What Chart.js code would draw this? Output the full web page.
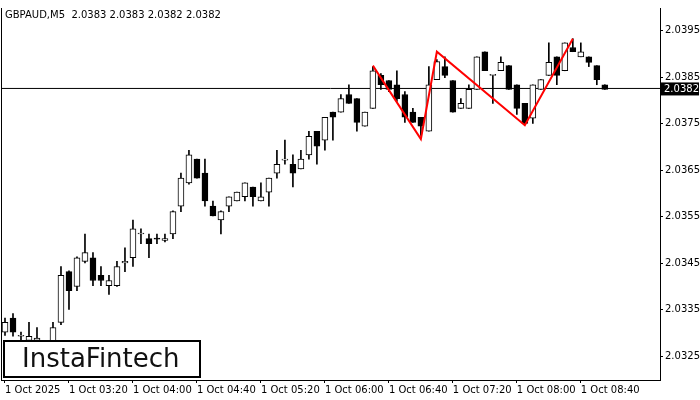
<!DOCTYPE html>
<html>
<head>
<meta charset="utf-8">
<script src="https://cdn.jsdelivr.net/npm/chart.js@4"></script>
<style>
  html, body { margin: 0; padding: 0; background: #fff; }
  #wrap { width: 700px; height: 400px; position: relative; }
</style>
</head>
<body>
<div id="wrap"><canvas id="chart"></canvas></div>
<script>
// GBPAUD M5 candles
const opens = [2.03302,2.03332,2.03293,2.03284,2.03284,2.03274,2.03274,2.03323,2.03432,2.03400,
  2.03454,2.03462,2.03424,2.03402,2.03402,2.03451,2.03462,2.03513,2.03503,2.03503,
  2.03499,2.03513,2.03573,2.03623,2.03674,2.03644,2.03573,2.03543,2.03573,2.03584,
  2.03593,2.03614,2.03584,2.03603,2.03644,2.03672,2.03663,2.03653,2.03683,2.03734,
  2.03715,2.03775,2.03775,2.03813,2.03804,2.03745,2.03783,2.03854,2.03843,2.03834,
  2.03813,2.03775,2.03764,2.03734,2.03845,2.03873,2.03843,2.03783,2.03783,2.03824,
  2.03905,2.03854,2.03864,2.03875,2.03834,2.03794,2.03762,2.03824,2.03854,2.03894,
  2.03864,2.03914,2.03894,2.03894,2.03875,2.03834];
const highs = [2.03332,2.03342,2.03302,2.03323,2.03312,2.03284,2.03323,2.03443,2.03434,2.03464,
  2.03513,2.03473,2.03443,2.03424,2.03454,2.03483,2.03543,2.03524,2.03513,2.03513,
  2.03513,2.03563,2.03644,2.03693,2.03674,2.03674,2.03584,2.03563,2.03593,2.03603,
  2.03623,2.03614,2.03623,2.03633,2.03693,2.03715,2.03683,2.03693,2.03734,2.03734,
  2.03764,2.03775,2.03813,2.03834,2.03804,2.03775,2.03873,2.03858,2.03843,2.03864,
  2.03819,2.03783,2.03764,2.03873,2.03888,2.03894,2.03843,2.03804,2.03834,2.03894,
  2.03905,2.03854,2.03894,2.03875,2.03834,2.03794,2.03834,2.03845,2.03924,2.03894,
  2.03924,2.03933,2.03924,2.03894,2.03875,2.03834];
const lows = [2.03295,2.03293,2.03280,2.03274,2.03267,2.03259,2.03263,2.03318,2.03351,2.03391,
  2.03451,2.03402,2.03402,2.03383,2.03400,2.03432,2.03443,2.03492,2.03462,2.03492,
  2.03496,2.03503,2.03561,2.03620,2.03633,2.03573,2.03552,2.03513,2.03561,2.03584,
  2.03584,2.03573,2.03584,2.03573,2.03633,2.03663,2.03614,2.03653,2.03674,2.03663,
  2.03693,2.03715,2.03775,2.03794,2.03734,2.03745,2.03783,2.03824,2.03819,2.03798,
  2.03753,2.03753,2.03725,2.03734,2.03845,2.03849,2.03775,2.03783,2.03783,2.03824,
  2.03864,2.03794,2.03864,2.03824,2.03770,2.03751,2.03751,2.03824,2.03854,2.03834,
  2.03864,2.03905,2.03894,2.03873,2.03834,2.03824];
const closes = [2.03323,2.03302,2.03293,2.03293,2.03289,2.03280,2.03312,2.03424,2.03391,2.03462,
  2.03473,2.03413,2.03413,2.03413,2.03443,2.03454,2.03524,2.03513,2.03492,2.03502,
  2.03503,2.03561,2.03633,2.03683,2.03633,2.03584,2.03552,2.03561,2.03593,2.03603,
  2.03623,2.03593,2.03593,2.03633,2.03663,2.03674,2.03644,2.03674,2.03723,2.03702,
  2.03764,2.03764,2.03804,2.03794,2.03753,2.03775,2.03864,2.03834,2.03824,2.03804,
  2.03764,2.03753,2.03745,2.03834,2.03884,2.03854,2.03775,2.03794,2.03824,2.03894,
  2.03864,2.03854,2.03882,2.03824,2.03783,2.03751,2.03834,2.03845,2.03882,2.03854,
  2.03924,2.03905,2.03905,2.03882,2.03845,2.03824];

// time labels every 8 candles
const timeLabels = ['1 Oct 2025','1 Oct 03:20','1 Oct 04:00','1 Oct 04:40','1 Oct 05:20',
  '1 Oct 06:00','1 Oct 06:40','1 Oct 07:20','1 Oct 08:00','1 Oct 08:40'];
const priceTicks = [2.0325, 2.0335, 2.0345, 2.0355, 2.0365, 2.0375, 2.0385, 2.0395];

// triple top pattern (candle index, price)
const patternIdx = [46, 52, 54, 65, 71];
const patternPrice = [2.03875, 2.03717, 2.03905, 2.03747, 2.03933];

const lastPrice = 2.03826;
const lastPriceLabel = '2.0382';
const X_MIN = -0.5, X_MAX = 81.9;

const wickData = lows.map((l, i) => ({ x: i, y: [l, highs[i]] }));
const bodyData = opens.map((o, i) => ({ x: i, y: [Math.min(o, closes[i]), Math.max(o, closes[i])] }));
const bodyFill = opens.map((o, i) => closes[i] >= o ? '#ffffff' : '#000000');

const FONT = 'DejaVu Sans, sans-serif';

// Overlay: title, price box, logo
const overlay = {
    id: 'overlay',
    afterDraw(chart) {
        const ctx = chart.ctx;
        const y = chart.scales.y;
        const area = chart.chartArea;
        ctx.save();
        // title
        ctx.fillStyle = '#000';
        ctx.font = '10px ' + FONT;
        ctx.textBaseline = 'middle';
        ctx.textAlign = 'left';
        ctx.fillText('GBPAUD,M5  2.0383 2.0383 2.0382 2.0382', 5, 15);
        // current price box
        const py = y.getPixelForValue(lastPrice);
        ctx.fillRect(area.right + 1, py - 6, 38, 13);
        ctx.fillStyle = '#fff';
        ctx.fillText(lastPriceLabel, area.right + 4, py + 0.5);
        // logo
        ctx.fillStyle = '#fff';
        ctx.fillRect(3, 340, 198, 38);
        ctx.strokeStyle = '#000';
        ctx.lineWidth = 2;
        ctx.strokeRect(4, 341, 196, 36);
        ctx.fillStyle = '#111';
        ctx.font = '26px ' + FONT;
        ctx.fillText('InstaFintech', 22, 360);
        ctx.restore();
    }
};

new Chart(document.getElementById('chart'), {
    type: 'bar',
    data: {
        datasets: [
            {
                type: 'line',
                data: [{ x: X_MIN, y: lastPrice }, { x: X_MAX, y: lastPrice }],
                borderColor: '#000',
                borderWidth: 1,
                pointRadius: 0,
                order: 3
            },
            {
                data: wickData,
                backgroundColor: '#000',
                barThickness: 1,
                grouped: false,
                order: 2
            },
            {
                data: bodyData,
                backgroundColor: bodyFill,
                borderColor: '#000',
                borderWidth: 1,
                borderSkipped: false,
                barThickness: 6,
                minBarLength: 1,
                grouped: false,
                order: 1
            },
            {
                type: 'line',
                data: patternIdx.map((v, i) => ({ x: v, y: patternPrice[i] })),
                borderColor: '#ff0000',
                borderWidth: 2,
                pointRadius: 0,
                order: 0
            }
        ]
    },
    options: {
        responsive: true,
        maintainAspectRatio: false,
        animation: false,
        layout: { padding: { top: 5, left: 1, right: 0, bottom: 0 } },
        plugins: { legend: { display: false }, tooltip: { enabled: false } },
        scales: {
            x: {
                type: 'linear',
                min: X_MIN,
                max: X_MAX,
                offset: false,
                afterBuildTicks: s => { s.ticks = timeLabels.map((t, i) => ({ value: i * 8 })); },
                afterFit: s => { s.height = 20; },
                border: { color: '#000', width: 1 },
                grid: { drawOnChartArea: false, color: '#000', tickLength: 3, offset: false },
                ticks: {
                    autoSkip: false,
                    maxRotation: 0,
                    align: 'start',
                    padding: 1,
                    color: '#000',
                    font: { size: 10, family: FONT },
                    callback: v => timeLabels[Math.round(v / 8)]
                }
            },
            y: {
                position: 'right',
                min: 2.03199,
                max: 2.03999,
                afterBuildTicks: s => { s.ticks = priceTicks.map(v => ({ value: v })); },
                afterFit: s => { s.width = 40; },
                border: { color: '#000', width: 1 },
                grid: { drawOnChartArea: false, color: '#000', tickLength: 3 },
                ticks: {
                    padding: 2,
                    color: '#000',
                    font: { size: 10, family: FONT },
                    callback: v => v.toFixed(4)
                }
            }
        }
    },
    plugins: [overlay, {
        id: 'leftBorder',
        afterDraw(chart) {
            const { ctx, chartArea } = chart;
            ctx.save();
            ctx.strokeStyle = '#000';
            ctx.beginPath();
            ctx.moveTo(chartArea.left + 0.5, chartArea.top);
            ctx.lineTo(chartArea.left + 0.5, chartArea.bottom);
            ctx.stroke();
            ctx.restore();
        }
    }]
});
</script>
</body>
</html>
